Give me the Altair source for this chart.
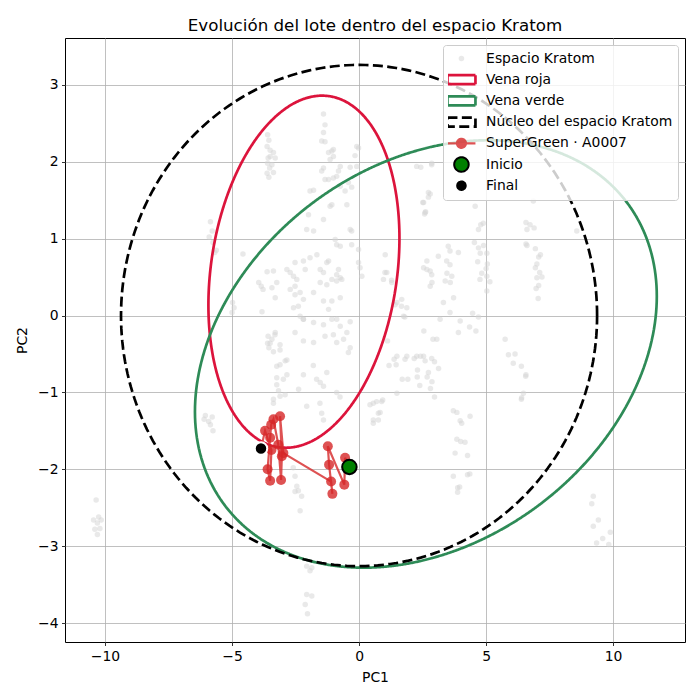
import altair as alt
import numpy as np
import pandas as pd

SERIES = ["Espacio Kratom", "Vena roja", "Vena verde", "Núcleo del espacio Kratom",
          "SuperGreen · A0007", "Inicio", "Final"]

# ---- background "Espacio Kratom" points (PC1, PC2) ----
espacio_puntos = [
    (-1.40, 2.62), (-1.34, 2.48), (-1.40, 2.38), (-1.47, 2.27), (-1.34, 2.26), (-1.07, 2.14),
    (-1.20, 2.12), (-1.01, 2.07), (-1.14, 2.03), (-0.74, 1.94), (-0.81, 1.88), (-1.40, 1.92),
    (-1.47, 1.88), (-1.20, 1.77), (-1.34, 1.77), (-1.01, 1.79), (-0.88, 1.81), (-0.74, 1.68),
    (-0.55, 1.62), (-0.29, 1.67), (-0.35, 1.93), (-0.09, 1.94), (-0.02, 2.18), (-1.93, 1.62),
    (-1.79, 1.63), (-1.07, 1.44), (-1.14, 1.42), (-0.48, 1.44), (-1.99, 1.31), (-1.40, 1.25),
    (-1.79, 1.10), (-2.06, 1.12), (-0.94, 0.99), (-0.88, 0.92), (-0.29, 1.10), (-0.35, 1.12),
    (-0.74, 0.90), (-0.29, 0.92), (-0.02, 0.86), (0.04, 0.62), (-0.02, 0.69), (-1.20, 0.71),
    (-1.27, 0.69), (-1.93, 0.75), (-2.19, 0.71), (-2.12, 0.60), (-2.52, 0.69), (-2.84, 0.60),
    (-2.71, 0.56), (-2.58, 0.51), (-2.45, 0.47), (-2.52, 0.38), (-2.71, 0.34), (-2.32, 0.30),
    (-2.19, 0.21), (-2.52, 0.27), (-3.37, 0.58), (-3.43, 0.36), (-3.30, 0.23), (-3.24, 0.43),
    (-1.66, 0.79), (-1.53, 0.60), (-1.40, 0.56), (-1.53, 0.43), (-1.27, 0.40), (-1.07, 0.47),
    (-0.88, 0.45), (-0.74, 0.49), (-0.68, 0.47), (-0.81, 0.60), (-0.88, 0.53), (-1.79, 0.30),
    (-1.40, 0.19), (-1.07, 0.19), (-0.74, 0.23), (-1.20, 0.08), (-2.58, 0.10), (-2.32, -0.01),
    (-2.19, -0.05), (-1.79, -0.09), (-1.40, -0.12), (-1.07, -0.05), (-0.88, -0.05), (-0.35, -0.08),
    (-0.74, -0.14), (-0.48, -0.22), (-0.61, -0.31), (-0.88, -0.35), (-0.35, -0.42), (-0.42, -0.48),
    (-3.30, -0.22), (-3.43, -0.31), (-3.11, -0.38), (-2.52, -0.22), (-2.19, -0.33), (-1.79, -0.35),
    (-1.34, -0.27), (-1.01, -0.25), (0.11, 0.51), (1.03, 0.79), (1.09, 0.56), (0.96, 0.47),
    (1.29, 0.43), (1.68, 0.21), (1.49, 0.17), (1.88, 0.10), (1.75, -0.01), (2.27, 1.94),
    (2.86, 1.96), (2.73, 1.60), (2.60, 1.34), (2.54, 1.47), (3.58, 0.84), (3.45, 0.71),
    (3.58, 0.66), (2.67, 0.71), (2.67, 0.60), (2.80, 0.38), (2.86, 0.53), (3.39, 0.45),
    (3.65, 0.51), (3.72, 0.23), (3.32, 0.17), (3.19, -0.05), (3.06, -0.31), (1.88, -0.53),
    (1.49, -0.53), (2.27, -0.53), (2.54, -0.53), (-3.37, 2.12), (-3.43, 1.96), (-3.37, 1.86),
    (-3.50, 2.07), (-3.30, 2.05),
    (-3.60, 2.35), (-3.55, 2.28), (-3.62, 2.20), (-3.50, 2.15), (-3.58, 2.05), (-3.60, 1.98),
    (-3.52, 1.92), (-3.62, 1.85), (-3.55, 1.80),
    (-10.35, -2.40), (-10.45, -2.66), (-10.25, -2.62), (-10.30, -2.70), (-10.15, -2.66),
    (-10.40, -2.78), (-10.30, -2.85), (-10.20, -2.77),
    (-6.05, -1.30), (-5.92, -1.38), (-5.78, -1.32), (-5.85, -1.42), (-5.75, -1.50), (-6.10, -1.35),
    (-5.85, 1.22), (-5.78, 1.10), (-5.90, 1.02), (-5.75, 0.95), (-5.62, 0.85), (-5.68, 0.82),
    (-4.57, 0.80), (-3.95, 0.43), (-3.85, 0.38), (-3.78, 0.34), (-3.82, 0.05), (-4.98, 0.17),
    (-4.92, 0.10), (-5.00, 0.04), (-3.62, 0.57), (-3.58, -0.27), (-3.60, -0.36), (-3.55, -0.42),
    (-3.24, -0.66), (-2.91, -0.59), (-2.98, -0.83), (-3.24, -0.90), (-3.11, -1.05), (-3.37, -1.14),
    (-1.67, -0.83), (-1.40, -0.92), (-1.53, -0.87), (-0.88, -1.00), (-0.75, -1.06), (-1.27, -0.74),
    (-1.54, -1.14), (-1.47, -1.27), (-1.40, -1.36), (-1.80, -0.65), (-2.19, -0.77), (-2.38, -0.96),
    (-2.06, -1.18), (-3.31, -0.25), (-3.50, -0.36), (-3.37, -0.47), (-3.11, -0.45), (-2.84, -0.58),
    (-3.11, -0.64), (-3.24, -0.81), (-2.84, -0.77), (-3.17, -0.98), (-2.91, -1.03), (-3.37, -1.09),
    (-2.39, 0.12), (-2.19, -0.05),
    (-2.59, -1.98), (-2.52, -2.09), (-2.45, -2.22), (-2.26, -2.35), (-2.32, -2.54), (-2.52, -2.29),
    (-2.39, -2.28), (-1.86, -3.28), (-1.93, -3.32), (-2.06, -3.63), (-1.86, -3.65), (-2.12, -3.76),
    (-2.03, -3.88), (-2.06, -3.26),
    (0.56, -1.14), (0.69, -1.12), (0.89, -1.12), (0.43, -1.16), (0.56, -1.36), (0.76, -1.36),
    (0.56, -1.40), (0.76, -1.27), (0.83, -1.26), (0.93, -1.10),
    (3.71, -1.24), (3.85, -1.26), (3.98, -1.37), (3.85, -1.61), (4.00, -1.64), (3.78, -1.79),
    (3.71, -2.09), (3.88, -2.24), (3.88, -2.30), (4.27, -2.07), (4.04, -1.40), (4.37, -1.31),
    (4.17, -1.65), (4.27, -1.82), (4.36, -2.06), (3.96, -2.23),
    (5.75, -0.31), (5.88, -0.51), (6.14, -0.50), (6.07, -0.62), (6.39, -0.66), (6.56, -0.79),
    (6.47, -1.01), (6.39, -1.09), (6.57, -0.77), (6.40, -1.07),
    (1.38, -0.57), (1.81, -0.57), (2.17, -0.56), (2.42, -0.53), (2.60, -0.59), (2.86, -0.56),
    (2.97, -0.60), (3.13, -0.69), (2.30, -0.71), (2.73, -0.74), (2.29, -0.80), (2.68, -0.80),
    (1.70, -0.83), (1.92, -0.83), (2.87, -0.86), (2.39, -0.91), (2.81, -0.95), (1.49, -1.01),
    (2.97, -1.06), (1.18, -0.65), (1.46, -0.64), (2.55, -0.20), (2.91, -0.31), (1.12, -0.33),
    (3.58, 0.04), (3.98, -0.07), (3.91, -0.22), (4.35, -0.15), (4.60, -0.20), (4.47, 0.03),
    (4.70, -0.02),
    (2.43, 1.93), (2.86, 1.98), (2.80, 1.58), (2.73, 1.54), (2.51, 1.47), (2.62, 1.35), (2.58, 1.32),
    (4.57, 1.42), (4.70, 1.12), (4.79, 1.18), (4.54, 0.95), (4.90, 0.91), (4.70, 0.88), (4.77, 0.81),
    (5.03, 0.81), (4.67, 0.70), (5.05, 0.67), (5.00, 0.61), (4.83, 0.55), (5.03, 0.51), (4.76, 0.47),
    (5.15, 0.44), (5.03, 0.32), (4.89, 1.20),
    (6.86, 1.49), (6.57, 1.21), (6.73, 1.18), (6.89, 1.14), (6.61, 1.12), (6.57, 0.93), (6.61, 0.91),
    (6.94, 0.87), (7.07, 0.76), (7.14, 0.79), (7.00, 0.67), (6.94, 0.62), (7.11, 0.56), (7.00, 0.49),
    (7.07, 0.39), (7.20, 0.50), (6.97, 0.35), (7.05, 0.22), (8.57, 1.10),
    (3.12, 0.77), (3.51, 0.90), (3.46, 0.55), (3.59, 0.43), (2.80, 0.58), (2.54, 0.62), (2.87, 0.43),
    (3.91, 0.82),
    (1.02, 0.56), (1.28, 0.46), (1.42, 0.14), (1.67, 0.12), (1.80, -0.02),
    (9.22, -2.35), (9.16, -2.45), (9.42, -2.66), (9.22, -2.74), (9.89, -2.82), (9.59, -2.90),
    (9.35, -2.96), (9.83, -2.98),
    (-0.09, 2.20), (-0.16, 2.08), (-0.42, 1.73), (-1.01, 2.16),
]
espacio_pc1 = [p[0] for p in espacio_puntos]
espacio_pc2 = [p[1] for p in espacio_puntos]

# ---- batch trajectory (SuperGreen · A0007) ----
traj_pc1 = [-0.38, -0.55, -0.58, -1.23, -1.18, -1.05, -1.10, -2.98, -3.11, -3.04, -3.07,
            -3.18, -3.37, -3.46, -3.50, -3.60, -3.50, -3.45, -3.70, -3.86]
traj_pc2 = [-1.97, -1.85, -2.20, -1.70, -1.94, -2.32, -2.16, -1.79, -1.31, -1.83, -2.14,
            -1.68, -1.35, -1.42, -1.59, -2.00, -2.15, -1.75, -1.50, -1.73]

# ---- ellipses: centre, half-extent in x and y, correlation ----
elipse_nombre = ["Vena roja", "Vena verde", "Núcleo del espacio Kratom"]
elipse_cx = [-2.17, 2.63, 0.0]
elipse_cy = [0.57, -0.50, 0.0]
elipse_sx = [3.76, 9.09, 9.37]
elipse_sy = [2.29, 2.78, 3.26]
elipse_rho = [0.19, 0.27, 0.0]

x_ticks = [-10, -5, 0, 5, 10]
y_ticks = [-4, -3, -2, -1, 0, 1, 2, 3]
x_domain = [-11.575, 12.83]
y_domain = [-4.247, 3.61]

# ---- tables ----
df_bg = pd.DataFrame({"pc1": espacio_pc1, "pc2": espacio_pc2, "serie": SERIES[0]})

t = np.linspace(0, 2 * np.pi, 241)
rows = []
for nm, cx, cy, sx, sy, rho in zip(elipse_nombre, elipse_cx, elipse_cy, elipse_sx, elipse_sy, elipse_rho):
    xs = cx + sx * np.cos(t)
    ys = cy + sy * (rho * np.cos(t) + np.sqrt(1 - rho ** 2) * np.sin(t))
    for i, (a, b) in enumerate(zip(xs, ys)):
        rows.append({"pc1": float(a), "pc2": float(b), "serie": nm, "orden": i})
df_ell = pd.DataFrame(rows)

df_traj = pd.DataFrame({"pc1": traj_pc1, "pc2": traj_pc2,
                        "orden": list(range(len(traj_pc1))), "serie": SERIES[4]})
df_ini = pd.DataFrame({"pc1": [traj_pc1[0]], "pc2": [traj_pc2[0]], "serie": ["Inicio"]})
df_fin = pd.DataFrame({"pc1": [traj_pc1[-1]], "pc2": [traj_pc2[-1]], "serie": ["Final"]})

# ---- styles per series (legend + marks share these scales) ----
RECT = "M-2.8,-0.9H2.8V0.9H-2.8Z"
LINEDOT = "M-2.8,0H2.8M0.9,0A0.9,0.9,0,1,1,-0.9,0A0.9,0.9,0,1,1,0.9,0Z"
fill_range = ["#d3d3d3", "transparent", "transparent", "transparent", "#d62728", "#008000", "#000000"]
stroke_range = ["transparent", "#dc143c", "#2e8b57", "#000000", "#d62728", "#000000", "#ffffff"]
shape_range = ["circle", RECT, RECT, RECT, LINEDOT, "circle", "circle"]
dash_range = [[1, 0], [1, 0], [1, 0], [10, 4.4], [1, 0], [1, 0], [1, 0]]


def is_(name):
    return "datum.value === '" + name + "'"


size_expr = ("(" + is_("Espacio Kratom") + " ? 30 : " + is_("Inicio") + " ? 210 : "
             + is_("Final") + " ? 156 : 100)")
opac_expr = ("(" + is_("Espacio Kratom") + " ? 0.5 : " + is_("SuperGreen · A0007") + " ? 0.8 : 1)")
width_expr = ("(" + is_("Espacio Kratom") + " ? 0 : " + is_("SuperGreen · A0007") + " ? 2.2 : ("
              + is_("Inicio") + " || " + is_("Final") + ") ? 2 : 2.7)")

LEG = alt.Legend(
    title=None,
    symbolSize=alt.ExprRef(expr=size_expr),
    symbolOpacity=alt.ExprRef(expr=opac_expr),
    symbolStrokeWidth=alt.ExprRef(expr=width_expr),
)


def ch(cls, rng):
    return cls("serie:N", scale=alt.Scale(domain=SERIES, range=rng), legend=LEG)


minus = "replace(datum.label, '-', '\u2212')"
X = alt.X("pc1:Q", scale=alt.Scale(domain=x_domain, nice=False, zero=False),
          axis=alt.Axis(values=x_ticks, title="PC1", labelExpr=minus))
Y = alt.Y("pc2:Q", scale=alt.Scale(domain=y_domain, nice=False, zero=False),
          axis=alt.Axis(values=y_ticks, title="PC2", labelExpr=minus))

bg = alt.Chart(df_bg).mark_point(filled=True, size=30, opacity=0.5, strokeWidth=0).encode(
    x=X, y=Y,
    fill=ch(alt.Fill, fill_range), stroke=ch(alt.Stroke, stroke_range),
    shape=ch(alt.Shape, shape_range),
)
ell = alt.Chart(df_ell).mark_line(strokeWidth=2.7, opacity=1).encode(
    x=X, y=Y, order="orden:Q",
    stroke=ch(alt.Stroke, stroke_range), strokeDash=ch(alt.StrokeDash, dash_range),
)
traj_line = alt.Chart(df_traj).mark_line(strokeWidth=2.2, opacity=0.8).encode(
    x=X, y=Y, order="orden:Q",
    stroke=ch(alt.Stroke, stroke_range),
)
traj_pts = alt.Chart(df_traj).mark_circle(size=100, opacity=0.8).encode(
    x=X, y=Y,
    fill=ch(alt.Fill, fill_range),
)
ini = alt.Chart(df_ini).mark_point(filled=True, size=210, strokeWidth=2, opacity=1).encode(
    x=X, y=Y,
    fill=ch(alt.Fill, fill_range), stroke=ch(alt.Stroke, stroke_range),
    shape=ch(alt.Shape, shape_range),
)
fin = alt.Chart(df_fin).mark_point(filled=True, size=156, strokeWidth=2, opacity=1).encode(
    x=X, y=Y,
    fill=ch(alt.Fill, fill_range), stroke=ch(alt.Stroke, stroke_range),
    shape=ch(alt.Shape, shape_range),
)

chart = alt.layer(bg, ell, traj_line, traj_pts, ini, fin).properties(
    width=620, height=604,
    title=alt.TitleParams("Evolución del lote dentro del espacio Kratom", fontSize=16.7,
                          font="DejaVu Sans", fontWeight="normal", color="black", offset=3),
    autosize=alt.AutoSizeParams(type="none"),
    padding={"left": 65, "top": 38, "right": 15, "bottom": 58},
).configure_view(
    stroke="black", strokeWidth=1
).configure_axis(
    domain=False, grid=True, gridColor="#b0b0b0", gridWidth=0.8,
    tickColor="black", tickSize=3.5, tickWidth=0.8,
    labelFont="DejaVu Sans", labelFontSize=13.9, labelColor="black", labelPadding=3.5,
    titleFont="DejaVu Sans", titleFontSize=13.9, titleFontWeight="normal", titleColor="black",
    titlePadding=8,
).configure_legend(
    orient="top-right", offset=7, padding=5,
    fillColor="rgba(255,255,255,0.8)", strokeColor="#cccccc", cornerRadius=3,
    labelFont="DejaVu Sans", labelFontSize=13.9, labelColor="black", labelLimit=400,
    symbolOffset=6.5, labelOffset=17.7, rowPadding=4.2, clipHeight=17,
)

chart.save("out.html", embed_options={"renderer": "svg", "actions": False})
